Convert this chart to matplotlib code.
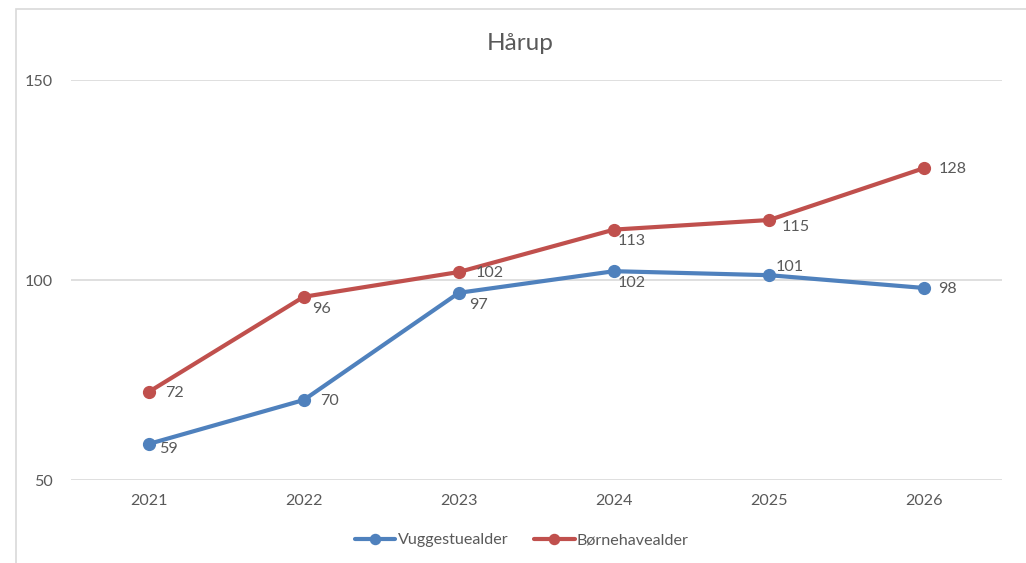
import matplotlib
matplotlib.use("Agg")
import matplotlib.pyplot as plt
from matplotlib.patches import Rectangle

years = ["2021", "2022", "2023", "2024", "2025", "2026"]
vuggestue = [59, 70, 96.8, 102.2, 101.2, 98]
boernehave = [72, 95.8, 102, 112.6, 115, 128]
series_names = ["Vuggestuealder", "Børnehavealder"]
title = "Hårup"
yticks = [50, 100, 150]

# label offsets in pixels (dx, dy) relative to each point
off_v = [(10, -5), (16, -1), (10, -12), (4, -12), (6, 8), (14, -1)]
off_b = [(17, -1), (8, -12), (17, -1), (4, -11), (12, -7), (14, -1)]

plt.rcParams['font.family'] = ['Lato', 'DejaVu Sans']
W, H = 1026, 563
fig = plt.figure(figsize=(W / 100, H / 100), dpi=100)

# chart frame (cropped at right/bottom)
fig.patches.append(Rectangle((16 / W, -0.1), 1.2, 1 - 9 / H + 0.1,
                             transform=fig.transFigure, fill=False,
                             edgecolor='#D9D9D9', linewidth=1.2))

ax = fig.add_axes([71 / W, 1 - 480 / H, (1002 - 71) / W, 400 / H])
x = list(range(len(years)))
blue = '#4F81BD'
red = '#C0504D'
txt = '#595959'

ax.plot(x, vuggestue, color=blue, lw=3, marker='o', ms=8.5, label=series_names[0],
        solid_capstyle='round', zorder=3)
ax.plot(x, boernehave, color=red, lw=3, marker='o', ms=8.5, label=series_names[1],
        solid_capstyle='round', zorder=3)

fs = 11.6
for xi, v, (dx, dy) in zip(x, vuggestue, off_v):
    ax.annotate(f"{v:.0f}", (xi, v), xytext=(dx, dy), textcoords='offset pixels',
                ha='left', va='center', fontsize=fs, color=txt)
for xi, v, (dx, dy) in zip(x, boernehave, off_b):
    ax.annotate(f"{v:.0f}", (xi, v), xytext=(dx, dy), textcoords='offset pixels',
                ha='left', va='center', fontsize=fs, color=txt)

ax.set_xlim(-0.5, len(years) - 0.5)
ax.set_ylim(50, 150)
ax.set_xticks(x)
ax.set_xticklabels(years)
ax.set_yticks(yticks)
ax.tick_params(axis='both', length=0, labelsize=fs, labelcolor=txt)
ax.tick_params(axis='y', pad=13)
ax.tick_params(axis='x', pad=10)
ax.grid(axis='y', color='#D9D9D9', linewidth=1.2)
ax.set_axisbelow(True)
for s in ax.spines.values():
    s.set_visible(False)

fig.text(520 / W, 1 - 43 / H, title, ha='center', va='center', fontsize=17.5, color=txt)

leg = fig.legend(loc='center', bbox_to_anchor=(522 / W, 1 - 540 / H), ncol=2,
                 frameon=False, fontsize=fs, handlelength=2.5, handletextpad=0.15,
                 columnspacing=1.6, labelcolor=txt, markerscale=0.85)

fig.savefig("out.png", dpi=100)
